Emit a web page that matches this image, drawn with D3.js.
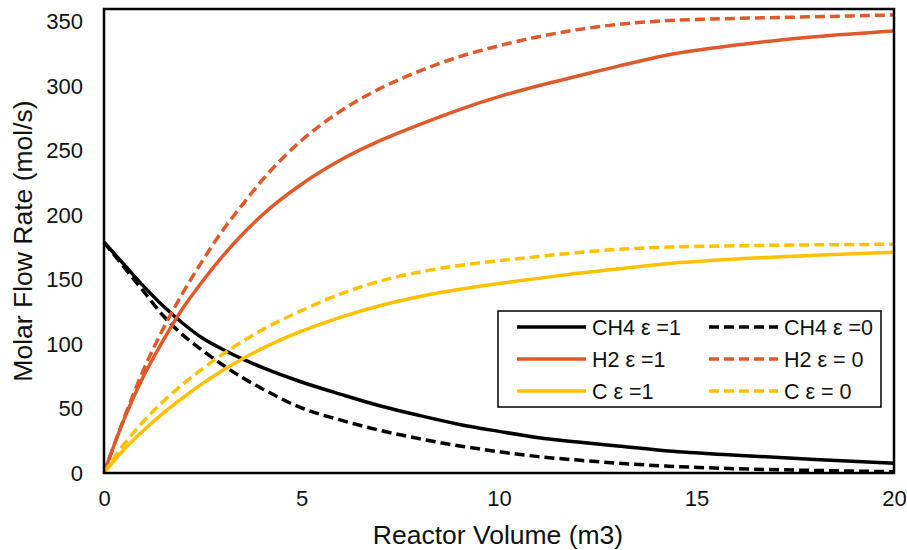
<!DOCTYPE html>
<html>
<head>
<meta charset="utf-8">
<script src="https://cdn.jsdelivr.net/npm/d3@7"></script>
<style>
  body { margin: 0; background: #fff; }
  svg { display: block; font-family: "Liberation Sans", Arial, sans-serif; }
</style>
</head>
<body>
<svg width="907" height="550"></svg>
<script>
// reactor volume (m3)
const volume = [0, 0.5, 1, 1.5, 2, 2.5, 3, 3.5, 4, 5, 6, 7, 8, 9, 10, 11, 12, 13, 14.3, 16, 18, 20];

// molar flow rates (mol/s)
const ch4Eps1 = [179, 162, 145, 129.5, 116, 104.5, 96, 88.5, 82, 70.6, 61, 52, 44.5, 37.7, 32.3, 27.4, 24, 21, 17, 13.8, 10.5, 7.5];
const ch4Eps0 = [179, 160, 141, 122, 107, 95, 84, 74, 65.5, 50.5, 41, 33, 26.5, 21, 16.5, 12.7, 10, 7.6, 5.3, 3.3, 2, 1];
const h2Eps1 = [0, 41, 75, 103, 128, 149, 168, 185, 200, 224, 243, 258, 270.5, 282, 292, 300.5, 308, 315.5, 324.5, 332, 338.5, 343];
const h2Eps0 = [0, 42, 80, 112, 140, 165, 188, 208, 227, 258, 281, 298.5, 312, 323, 331.5, 338.5, 344, 348, 351, 352.7, 354, 355.4];
const cEps1 = [0, 18, 33, 46.5, 58.5, 69.5, 79.5, 88.5, 96.5, 110, 121, 130, 137, 142.5, 147, 151, 155, 158.3, 162.5, 166, 169, 171.3];
const cEps0 = [0, 22, 40, 55.5, 69, 81, 92, 102, 111, 126, 139, 149, 156, 161, 164.7, 168, 171, 173.5, 175.3, 176.3, 177, 177.5];

const xTicks = [0, 5, 10, 15, 20];
const yTicks = [0, 50, 100, 150, 200, 250, 300, 350];

const series = [
  { name: "CH4 ε =1", values: ch4Eps1, color: "#000000", dashed: false },
  { name: "CH4 ε =0", values: ch4Eps0, color: "#000000", dashed: true },
  { name: "H2 ε =1", values: h2Eps1, color: "#E0592A", dashed: false },
  { name: "H2 ε = 0", values: h2Eps0, color: "#E0592A", dashed: true },
  { name: "C ε =1", values: cEps1, color: "#FFC000", dashed: false },
  { name: "C ε = 0", values: cEps0, color: "#FFC000", dashed: true }
];

const svg = d3.select("svg");
const margin = { top: 9, right: 13, bottom: 77, left: 104 };
const width = +svg.attr("width");
const height = +svg.attr("height");
const plotW = width - margin.left - margin.right;
const plotH = height - margin.top - margin.bottom;

const x = d3.scaleLinear().domain([0, 20]).range([0, plotW]);
const y = d3.scaleLinear().domain([0, 360]).range([plotH, 0]);

const g = svg.append("g").attr("transform", `translate(${margin.left},${margin.top})`);

// axes, no tick marks, just labels
const xAxis = g.append("g")
  .attr("transform", `translate(0,${plotH})`)
  .call(d3.axisBottom(x).tickValues(xTicks).tickSize(0).tickPadding(17));
const yAxis = g.append("g")
  .call(d3.axisLeft(y).tickValues(yTicks).tickSize(0).tickPadding(21));
[xAxis, yAxis].forEach(a => {
  a.select(".domain").remove();
  a.selectAll("text").attr("font-size", 22).attr("font-family", "Liberation Sans, Arial, sans-serif").attr("fill", "#111");
});

let line = d3.line()
  .x((d, i) => x(volume[i]))
  .y(d => y(d))
  .curve(d3.curveMonotoneX);

series.forEach(s => {
  g.append("path")
    .datum(s.values)
    .attr("fill", "none")
    .attr("stroke", s.color)
    .attr("stroke-width", 3.5)
    .attr("stroke-dasharray", s.dashed ? "10,5" : null)
    .attr("d", line);
});

// plot frame
g.append("rect")
  .attr("width", plotW).attr("height", plotH)
  .attr("fill", "none").attr("stroke", "#000").attr("stroke-width", 2.5);

// axis titles
svg.append("text")
  .attr("x", margin.left + plotW / 2 - 1).attr("y", 544)
  .attr("text-anchor", "middle").attr("font-size", 26.5).attr("fill", "#111")
  .text("Reactor Volume (m3)");
svg.append("text")
  .attr("transform", `translate(32,${margin.top + plotH / 2}) rotate(-90)`)
  .attr("text-anchor", "middle").attr("font-size", 26.5).attr("fill", "#111")
  .text("Molar Flow Rate (mol/s)");

// legend
const legend = svg.append("g").attr("transform", "translate(498,311)");
legend.append("rect")
  .attr("width", 383).attr("height", 96)
  .attr("fill", "#fff").attr("stroke", "#000").attr("stroke-width", 1.5);

series.forEach((s, i) => {
  let col = i % 2, row = Math.floor(i / 2);
  let lx = 19 + col * 192, ly = 16 + row * 32;
  legend.append("line")
    .attr("x1", lx).attr("x2", lx + 69)
    .attr("y1", ly).attr("y2", ly)
    .attr("stroke", s.color).attr("stroke-width", 3.5)
    .attr("stroke-dasharray", s.dashed ? "10,5" : null);
  legend.append("text")
    .attr("x", lx + 75).attr("y", ly + 8)
    .attr("font-size", 21.5).attr("fill", "#111")
    .text(s.name);
});
</script>
</body>
</html>
